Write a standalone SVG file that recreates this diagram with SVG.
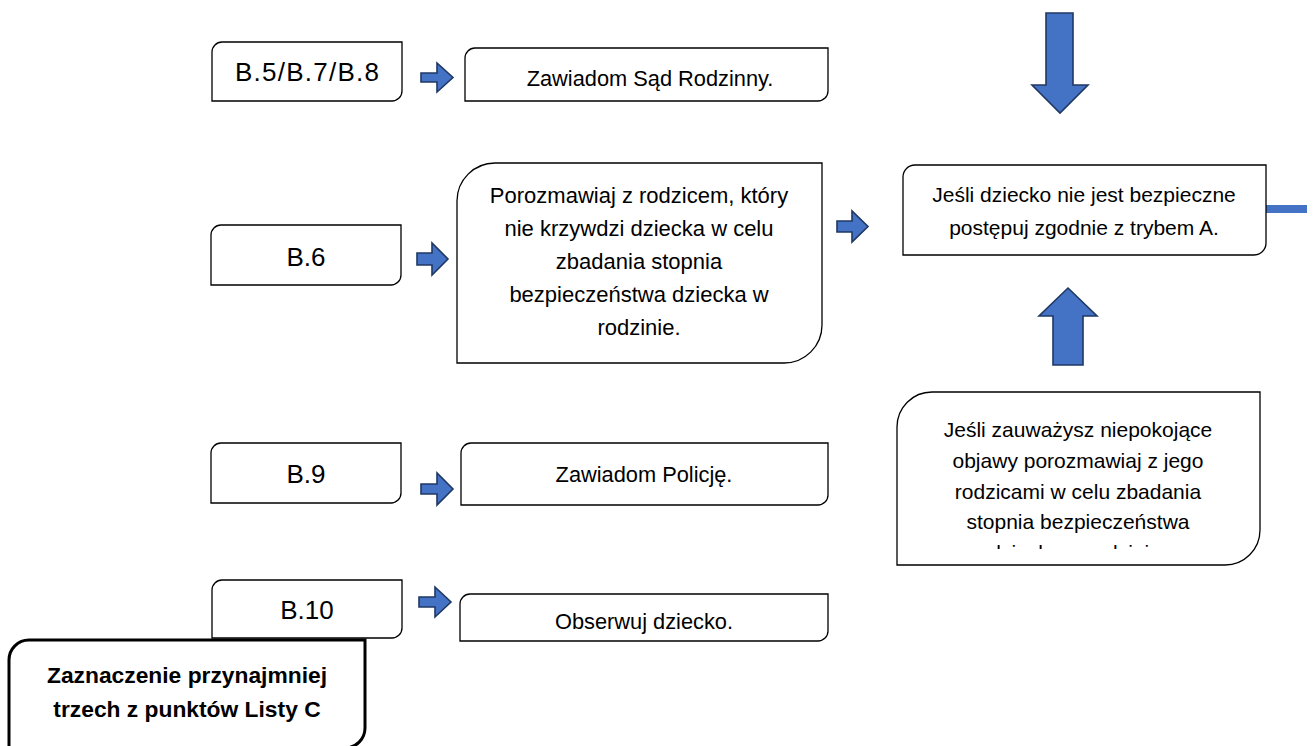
<svg xmlns="http://www.w3.org/2000/svg" width="1314" height="746" viewBox="0 0 1314 746">
<defs>
<style>
.box{fill:#fff;stroke:#000;stroke-width:1.3}
.thick{stroke-width:3}
.arr{fill:#4472C4;stroke:#1F3864;stroke-width:1.6;stroke-linejoin:miter}
.t{font-family:"Liberation Sans",Arial,sans-serif;fill:#000;text-anchor:middle}
.lab{font-size:26px}
.sm{font-size:21.8px}
.md{font-size:21px}
.lg{font-size:22px}
.bd{font-size:22.8px;font-weight:bold}
</style>
<clipPath id="clip5"><rect x="897" y="392" width="363" height="157"/></clipPath>
</defs>
<rect width="1314" height="746" fill="#fff"/>

<g id="connectors">
<path class="arr" d="M421,73 H437 V63 L453,77.5 L437,92 V82 H421 Z"/>
<path class="arr" d="M417,253 H432 V243 L448,259 L432,275 V265 H417 Z"/>
<path class="arr" d="M837,221 H852 V211 L868,226.5 L852,242 V232 H837 Z"/>
<path class="arr" d="M421,484 H437 V473 L453,489 L437,505 V494 H421 Z"/>
<path class="arr" d="M419,597 H435 V587 L451,602 L435,617 V607 H419 Z"/>
<path class="arr" d="M1046,13 H1073 V85 H1088 L1060,113 L1032,85 H1046 Z"/>
<path class="arr" d="M1068,288 L1097,316 H1083 V365 H1053 V316 H1039 Z"/>
<line x1="1261" y1="209" x2="1307" y2="209" stroke="#4472C4" stroke-width="8"/>
</g>

<g id="n-b578">
<path class="box" d="M212,52 A10,10 0 0 1 222,42 H402 V91 A10,10 0 0 1 392,101 H212 Z"/>
<text class="t lab" x="307" y="81" textLength="144" lengthAdjust="spacing">B.5/B.7/B.8</text>
</g>
<g id="n-sad">
<path class="box" d="M465,58 A10,10 0 0 1 475,48 H828 V91 A10,10 0 0 1 818,101 H465 Z"/>
<text class="t sm" x="650" y="86">Zawiadom Sąd Rodzinny.</text>
</g>

<g id="n-b6">
<path class="box" d="M211,235 A10,10 0 0 1 221,225 H401 V275 A10,10 0 0 1 391,285 H211 Z"/>
<text class="t lab" x="306" y="266">B.6</text>
</g>
<g id="n-porozmawiaj">
<path class="box" d="M457,201 A38,38 0 0 1 495,163 H822 V325 A38,38 0 0 1 784,363 H457 Z"/>
<text class="t lg" x="639" y="203">Porozmawiaj z rodzicem, który</text>
<text class="t lg" x="639" y="236">nie krzywdzi dziecka w celu</text>
<text class="t lg" x="639" y="269">zbadania stopnia</text>
<text class="t lg" x="639" y="302">bezpieczeństwa dziecka w</text>
<text class="t lg" x="639" y="335">rodzinie.</text>
</g>

<g id="n-trybA">
<path class="box" d="M903,177 A12,12 0 0 1 915,165 H1266 V243 A12,12 0 0 1 1254,255 H903 Z"/>
<text class="t md" x="1084" y="202">Jeśli dziecko nie jest bezpieczne</text>
<text class="t md" x="1084" y="235">postępuj zgodnie z trybem A.</text>
</g>

<g id="n-b9">
<path class="box" d="M211,453 A10,10 0 0 1 221,443 H401 V493 A10,10 0 0 1 391,503 H211 Z"/>
<text class="t lab" x="306" y="483">B.9</text>
</g>
<g id="n-policja">
<path class="box" d="M461,453 A10,10 0 0 1 471,443 H828 V495 A10,10 0 0 1 818,505 H461 Z"/>
<text class="t sm" x="644" y="482">Zawiadom Policję.</text>
</g>

<g id="n-objawy">
<path class="box" d="M897,427 A35,35 0 0 1 932,392 H1260 V530 A35,35 0 0 1 1225,565 H897 Z"/>
<text class="t md" x="1078" y="437">Jeśli zauważysz niepokojące</text>
<text class="t md" x="1078" y="468">objawy porozmawiaj z jego</text>
<text class="t md" x="1078" y="498.5">rodzicami w celu zbadania</text>
<text class="t md" x="1078" y="529">stopnia bezpieczeństwa</text>
<text class="t md" x="1078" y="560" clip-path="url(#clip5)">dziecka w rodzinie.</text>
</g>

<g id="n-b10">
<path class="box" d="M212,590 A10,10 0 0 1 222,580 H402 V628 A10,10 0 0 1 392,638 H212 Z"/>
<text class="t lab" x="307" y="619">B.10</text>
</g>
<g id="n-obserwuj">
<path class="box" d="M460,604 A10,10 0 0 1 470,594 H828 V631 A10,10 0 0 1 818,641 H460 Z"/>
<text class="t sm" x="644" y="629">Obserwuj dziecko.</text>
</g>

<g id="n-listaC">
<path class="box thick" d="M9,660 A20,20 0 0 1 29,640 H365 V728 A20,20 0 0 1 345,748 H9 Z"/>
<text class="t bd" x="187" y="683">Zaznaczenie przynajmniej</text>
<text class="t bd" x="187" y="717">trzech z punktów Listy C</text>
</g>
</svg>
